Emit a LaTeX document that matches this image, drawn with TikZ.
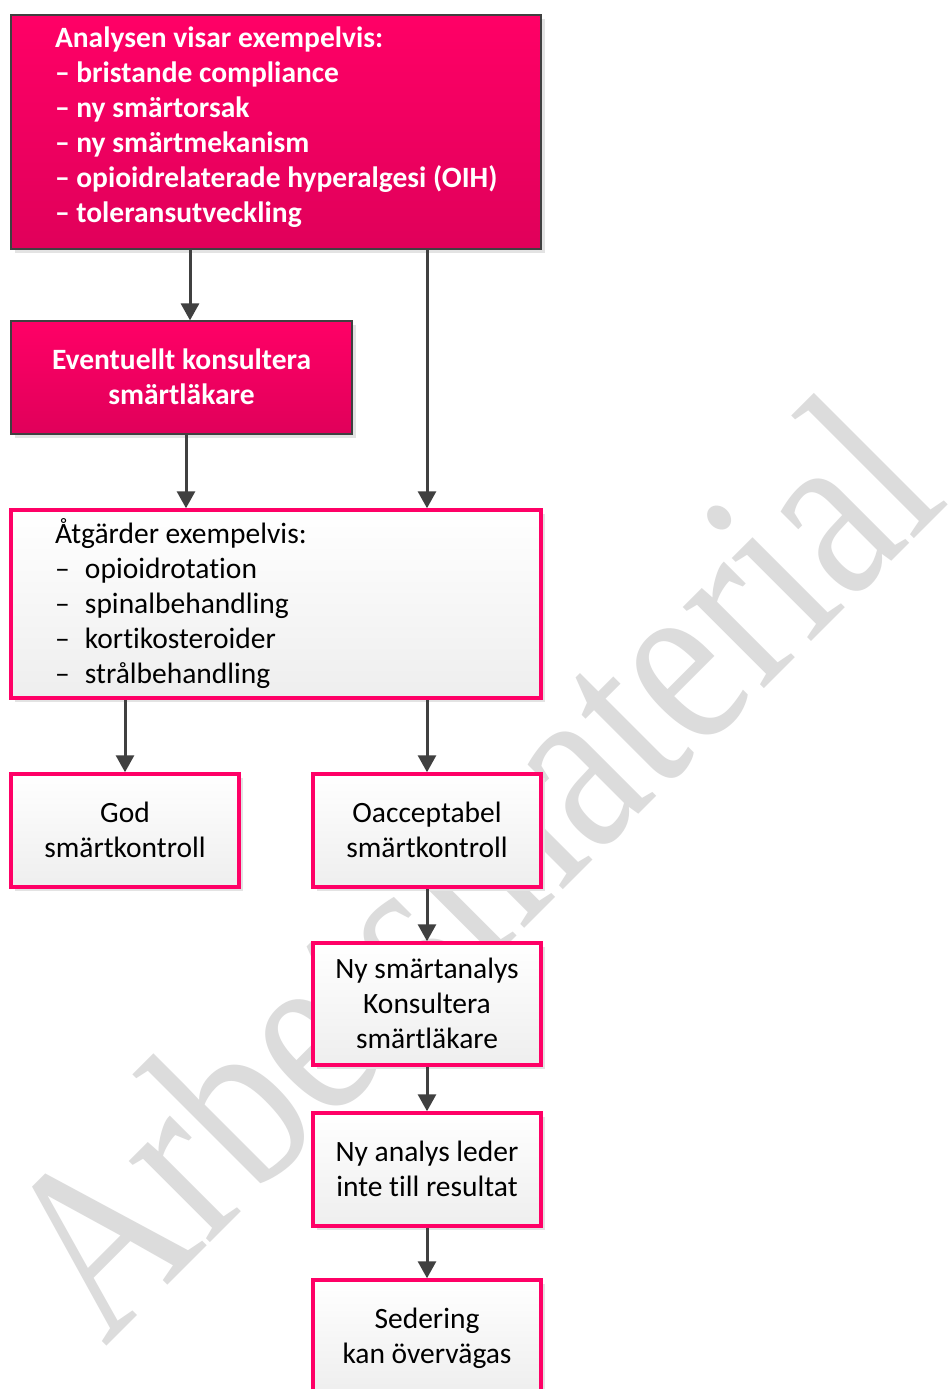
\documentclass[tikz,border=0pt]{standalone}
\usepackage{fontspec}
\setmainfont{Carlito}[Ligatures={NoCommon}]
\newfontfamily\wmfont{Liberation Serif}
\usetikzlibrary{arrows.meta,shadows}
\definecolor{pinkc}{HTML}{FF0066}
\definecolor{pinkd}{HTML}{E0005A}
\definecolor{arrc}{HTML}{404040}
\definecolor{wmc}{HTML}{DCDCDC}
\definecolor{shc}{HTML}{E3E3E3}
\definecolor{lightb}{HTML}{EEEEEE}
\newcommand\ms{\rule[-8.5pt]{0pt}{35pt}}
\newcommand\lastms{\rule[-21pt]{0pt}{1pt}}
\newcommand\listsetup{\leftskip=14pt \spaceskip=0pt \xspaceskip=0pt }
\begin{document}
\begin{tikzpicture}[x=1pt,y=-1pt,
  basebox/.style={rectangle, inner sep=0pt,
    drop shadow={shadow xshift=4pt,shadow yshift=-4pt,fill=shc,opacity=1}},
  pinkbox/.style={basebox, draw=arrc, line width=1.2pt, top color=pinkc, bottom color=pinkd,
    text=white, font=\fontsize{29.5}{35}\selectfont\bfseries},
  whitebox/.style={basebox, draw=pinkc, line width=3.5pt, top color=white, bottom color=lightb,
    text=black, font=\fontsize{29.5}{35}\selectfont},
  arr/.style={draw=arrc, line width=3pt, -{Triangle[width=18pt,length=17pt]}},
]
\clip (0,0) rectangle (948,1389);
\fill[white] (0,0) rectangle (948,1389);
% watermark
\node[rotate=45, anchor=base west, text=wmc, inner sep=0pt,
  font=\wmfont\fontsize{250}{250}\selectfont] (wm) at (105,1348) {\scalebox{0.805}[1]{Arbetsmaterial}};
% boxes
\node[pinkbox, minimum width=530pt, minimum height=234pt, text width=470pt, align=left] (b1) at (276,132)
  {\listsetup \ms Analysen visar exempelvis:\\
   \ms– bristande compliance\\
   \ms– ny smärtorsak\\
   \ms– ny smärtmekanism\\
   \ms– opioidrelaterade hyperalgesi (OIH)\\
   \ms– toleransutveckling\lastms\par};
\node[pinkbox, minimum width=341pt, minimum height=113pt, align=center] (b2) at (181.5,377.5)
  {\ms Eventuellt konsultera\\ \ms smärtläkare};
\node[whitebox, minimum width=530pt, minimum height=188pt, text width=470pt, align=left] (b3) at (276,604)
  {\listsetup \ms Åtgärder exempelvis:\\
   \ms\makebox[30pt][l]{–}opioidrotation\\
   \ms\makebox[30pt][l]{–}spinalbehandling\\
   \ms\makebox[30pt][l]{–}kortikosteroider\\
   \ms\makebox[30pt][l]{–}strålbehandling\par};
\node[whitebox, minimum width=228pt, minimum height=113pt, align=center] (b4) at (125,830.5)
  {\ms God\\ \ms smärtkontroll};
\node[whitebox, minimum width=228pt, minimum height=113pt, align=center] (b5) at (427,830.5)
  {\ms Oacceptabel\\ \ms smärtkontroll};
\node[whitebox, minimum width=228pt, minimum height=122pt, align=center] (b6) at (427,1004)
  {\ms Ny smärtanalys\\ \ms Konsultera\\ \ms smärtläkare};
\node[whitebox, minimum width=228pt, minimum height=113pt, align=center] (b7) at (427,1169.5)
  {\ms Ny analys leder\\ \ms inte till resultat};
\node[whitebox, minimum width=228pt, minimum height=114pt, align=center] (b8) at (427,1337)
  {\ms Sedering\\ \ms kan övervägas};
% connectors
\draw[arr] ([xshift=8.5pt]b2.north |- b1.south) -- ([xshift=8.5pt]b2.north);
\draw[arr] (b1.south -| b5.north) -- (b3.north -| b5.north);
\draw[arr] ([xshift=4.5pt]b2.south) -- ([xshift=4.5pt]b2.south |- b3.north);
\draw[arr] (b3.south -| b4.north) -- (b4.north);
\draw[arr] (b3.south -| b5.north) -- (b5.north);
\draw[arr] (b5.south) -- (b6.north);
\draw[arr] (b6.south) -- (b7.north);
\draw[arr] (b7.south) -- (b8.north);
\end{tikzpicture}
\end{document}
